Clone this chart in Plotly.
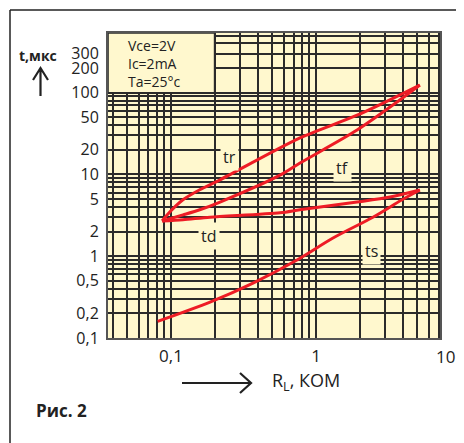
import math
import plotly.graph_objects as go

# ---- data ----
rl_tr = [0.087, 0.094, 0.121, 0.158, 0.218, 0.776, 1.92, 5.2]
t_tr = [2.7, 3.2, 4.9, 6.5, 8.6, 28, 53, 124]

rl_tf = [0.087, 0.121, 0.158, 0.218, 0.565, 0.776, 1.92, 3.62, 5.2]
t_tf = [2.7, 3.2, 3.7, 4.6, 9.8, 13.8, 34.9, 76.8, 124]

rl_td = [0.087, 0.121, 0.186, 0.565, 0.776, 1.92, 3.24, 5.2]
t_td = [2.7, 2.8, 3.0, 3.4, 3.7, 4.6, 5.3, 6.45]

rl_ts = [0.081, 0.186, 0.368, 0.740, 1.31, 2.47, 3.92, 5.2]
t_ts = [0.16, 0.275, 0.47, 0.90, 1.67, 3.0, 4.9, 6.45]

y_tick_vals = [0.1, 0.2, 0.5, 1, 2, 5, 10, 20, 50, 100, 200, 300]
y_tick_text = ["0,1", "0,2", "0,5", "1", "2", "5", "10", "20", "50", "100", "200", "300"]
x_tick_vals = [0.1, 1]
x_tick_text = ["0,1", "1"]

curve_label_names = ["tr", "tf", "td", "ts"]
curve_label_x = [0.255, 1.535, 0.183, 2.43]
curve_label_y = [16.3, 12.0, 1.77, 1.16]

box_lines = ["Vce=2V", "Ic=2mA", "Ta=25°c"]

# ---- style ----
OFF = 8                      # default page body margin
W, H = 464 - OFF, 443 - OFF
ML, MR, MT, MB = 100, 24, 25, 105
CREAM = "#FFF8CE"
GRID = "#2b2b2b"
RED = "#EE1C25"
FONT = "Open Sans"

x_range = [-1.434, 0.855]
y_range = [-1.0, 2.73]


def decade_minors(lo, hi, skip):
    out = []
    for e in range(lo, hi + 1):
        for m in range(1, 10):
            v = m * 10 ** e
            if v not in skip:
                out.append(v)
    return out


x_minor = [v for v in decade_minors(-2, 0, x_tick_vals) if 10 ** x_range[0] < v < 10 ** x_range[1]]
y_minor = [v for v in decade_minors(-1, 2, y_tick_vals) if 10 ** y_range[0] < v < 10 ** y_range[1]]

fig = go.Figure()
for xs, ys in [(rl_tr, t_tr), (rl_tf, t_tf), (rl_td, t_td), (rl_ts, t_ts)]:
    fig.add_trace(go.Scatter(x=xs, y=ys, mode="lines",
                             line=dict(color=RED, width=3, shape="spline", smoothing=0.8),
                             showlegend=False, hoverinfo="skip"))

axis_common = dict(showline=True, mirror=True, linecolor="#555555", linewidth=2,
                   showgrid=True, gridcolor=GRID, gridwidth=1.6, zeroline=False,
                   ticks="outside", tickcolor="rgba(0,0,0,0)")

fig.update_xaxes(type="log", range=x_range, tickmode="array", tickvals=x_tick_vals,
                 ticktext=x_tick_text, ticklen=2,
                 tickfont=dict(family=FONT, size=17, color="#222"),
                 minor=dict(tickmode="array", tickvals=x_minor, showgrid=True,
                            gridcolor=GRID, gridwidth=1.6, ticks=""),
                 **axis_common)
fig.update_yaxes(type="log", range=y_range, tickmode="array", tickvals=y_tick_vals,
                 ticktext=y_tick_text, ticklen=4,
                 tickfont=dict(family=FONT, size=16, color="#222"),
                 minor=dict(tickmode="array", tickvals=y_minor, showgrid=True,
                            gridcolor=GRID, gridwidth=1.6, ticks=""),
                 **axis_common)


# window-pixel -> paper helpers (plot area spans x 108..440, y 33..338 in the window)
def px(x):
    return (x - 108) / 332


def py(y):
    return (338 - y) / 305


shapes = [
    dict(type="rect", xref="x", yref="y", x0=10 ** x_range[0], x1=0.2,
         y0=100, y1=10 ** y_range[1], fillcolor=CREAM,
         line=dict(color=GRID, width=1.6), layer="above"),
    dict(type="line", xref="paper", yref="paper", x0=px(10), x1=px(463), y0=py(10), y1=py(10),
         line=dict(color="#222", width=1.5)),
    dict(type="line", xref="paper", yref="paper", x0=px(10), x1=px(10), y0=py(10), y1=py(446),
         line=dict(color="#222", width=1.5)),
    dict(type="path", xref="paper", yref="paper",
         path=f"M {px(40.5)},{py(96)} L {px(40.5)},{py(68)} M {px(33)},{py(80)} L {px(40.5)},{py(68)} L {px(48)},{py(80)}",
         line=dict(color="#222", width=2.2)),
    dict(type="path", xref="paper", yref="paper",
         path=f"M {px(182)},{py(383)} L {px(251)},{py(383)} M {px(240)},{py(373)} L {px(251)},{py(383)} L {px(240)},{py(393)}",
         line=dict(color="#222", width=2.2)),
]

annotations = [
    dict(xref="paper", yref="paper", x=px(126), y=py(64), xanchor="left", yanchor="middle",
         align="left", showarrow=False, text="<br>".join(box_lines),
         font=dict(family=FONT, size=14, color="#222")),
    dict(xref="paper", yref="paper", x=px(38), y=py(55), xanchor="center", yanchor="middle",
         showarrow=False, text="<b>t,мкс</b>", font=dict(family=FONT, size=14, color="#222")),
    dict(xref="paper", yref="paper", x=px(270), y=py(381), xanchor="left", yanchor="middle",
         showarrow=False, text="R<sub>L</sub>, КОМ", font=dict(family=FONT, size=18, color="#222")),
    dict(xref="paper", yref="paper", x=px(34), y=py(410), xanchor="left", yanchor="middle",
         showarrow=False, text="<b>Рис. 2</b>", font=dict(family=FONT, size=17, color="#222")),
    dict(xref="paper", yref="paper", x=px(445), y=py(356), xanchor="center", yanchor="middle",
         showarrow=False, text="10", font=dict(family=FONT, size=17, color="#222")),
]
for name, xv, yv in zip(curve_label_names, curve_label_x, curve_label_y):
    annotations.append(dict(x=math.log10(xv), y=math.log10(yv), xref="x", yref="y",
                            xanchor="center", yanchor="middle",
                            showarrow=False, text=name, bgcolor=CREAM, borderpad=2,
                            font=dict(family=FONT, size=16, color="#222")))

fig.update_layout(width=W, height=H, margin=dict(l=ML, r=MR, t=MT, b=MB),
                  paper_bgcolor="white", plot_bgcolor=CREAM,
                  shapes=shapes, annotations=annotations, showlegend=False)

fig.write_html("out.html")
